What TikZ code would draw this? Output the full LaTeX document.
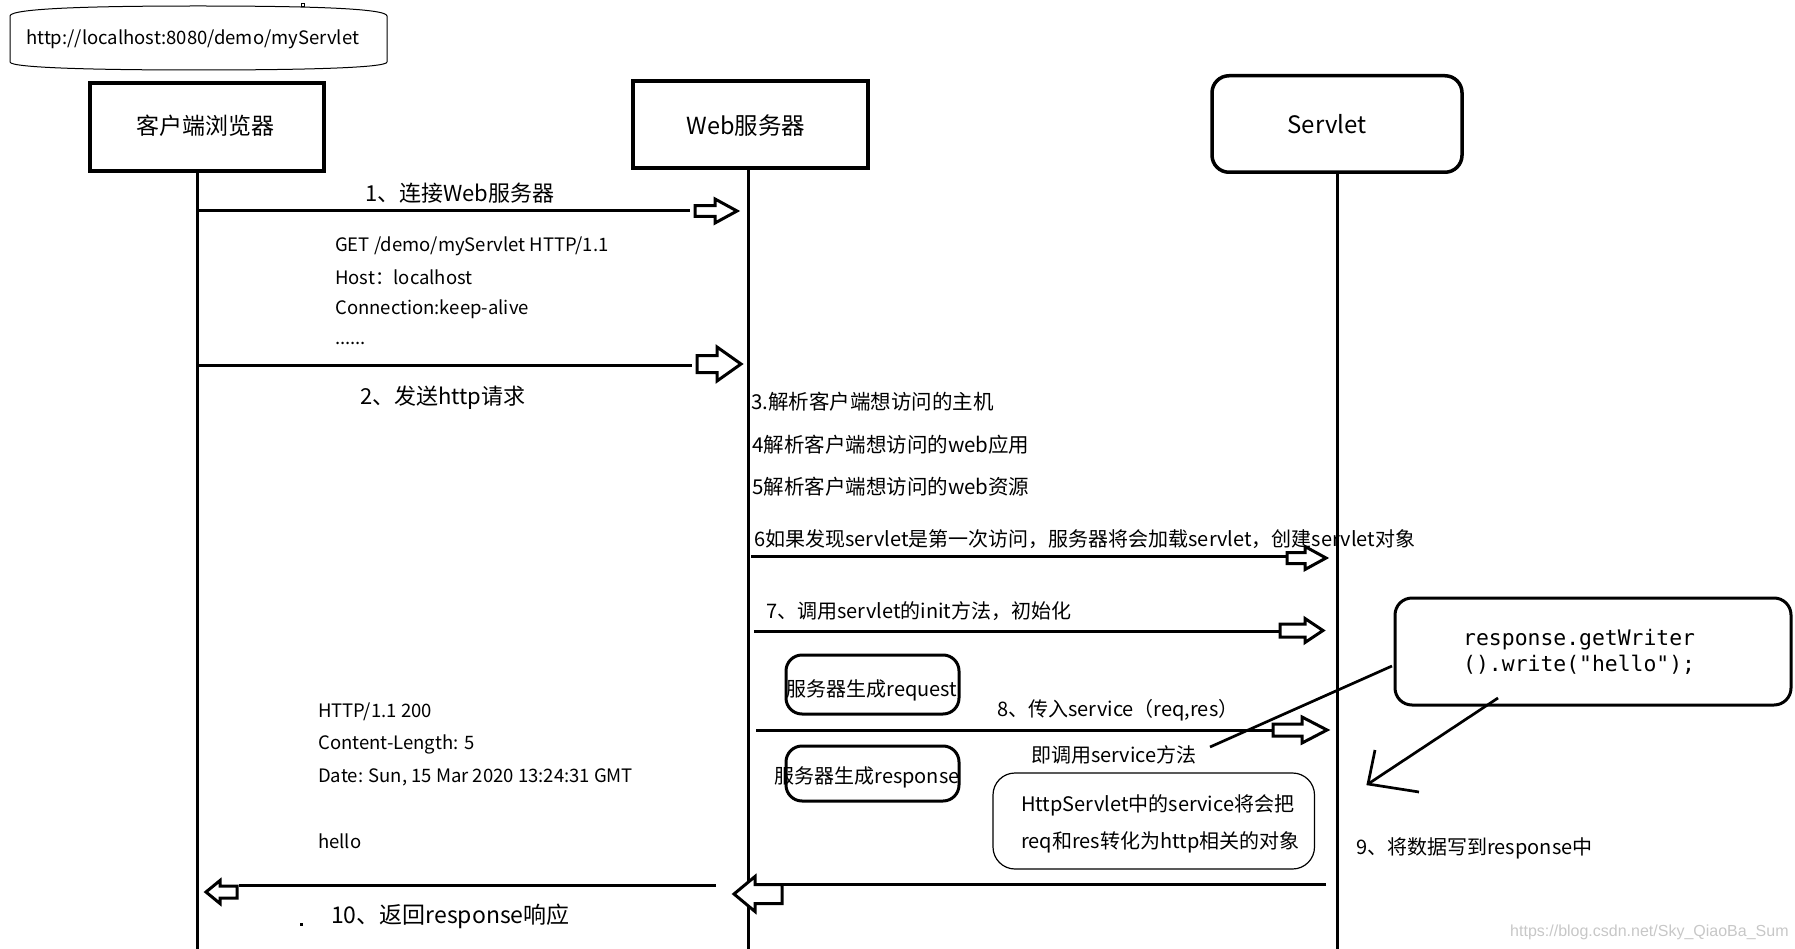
\documentclass[tikz,border=0pt]{standalone}
\usepackage{fontspec}
\setmainfont{Noto Sans CJK SC}
\newfontfamily\codefont{DejaVu Sans Mono}
\newfontfamily\wmfont{Liberation Sans}
\newcommand\myfs[1]{\fontsize{#1}{#1}\selectfont}
% #1 tip, #2 dir (1 right, -1 left), #3 shaft len, #4 shaft half, #5 head len, #6 head half
\newcommand\blockarr[6]{\draw[blockarrow] (#1) -- ++({-(#2)*(#5)},{#6}) -- ++(0,{-(#6)+(#4)}) -- ++({-(#2)*(#3)},0) -- ++(0,{-2*(#4)}) -- ++({(#2)*(#3)},0) -- ++(0,{-(#6)+(#4)}) -- cycle;}
\tikzset{
  headbox/.style={draw, line width=3.5pt, inner sep=0pt},
  lifeline/.style={line width=3pt},
  msg/.style={line width=3pt},
  blockarrow/.style={draw, line width=3pt, fill=white, line join=miter},
  lbl/.style={inner sep=0pt, anchor=west, font=\myfs{20}},
  biglbl/.style={inner sep=0pt, anchor=west, font=\myfs{22}},
  hdr/.style={inner sep=0pt, anchor=west, font=\myfs{18.5}},
  softbox/.style={draw, line width=3pt, rounded corners=16pt, inner sep=0pt},
}
\begin{document}
\begin{tikzpicture}[x=1pt,y=-1pt]
\useasboundingbox (0,0) rectangle (1795,949);

% URL bubble
\draw[line width=1pt] (10,62) -- (10,16) .. controls (10,8) and (100,6) .. (198,6) .. controls (300,6) and (387,8) .. (387,16) -- (387,62) .. controls (387,68) and (300,70) .. (198,70) .. controls (100,70) and (10,68) .. (10,62);
\draw[line width=0.8pt] (301.5,3) rectangle (304.5,6);
\node[hdr] (url) at (26,39) {http://localhost:8080/demo/myServlet};

% heads
\node[headbox, minimum width=234pt, minimum height=88pt] (browser) at (207,127) {};
\node[inner sep=0pt, font=\myfs{23}] (browsert) at (205,126) {客户端浏览器};
\node[headbox, minimum width=235pt, minimum height=87pt] (web) at (750.5,124.5) {};
\node[inner sep=0pt, font=\myfs{23.5}] (webt) at (746,126) {Web服务器};
\node[headbox, rounded corners=17pt, minimum width=250pt, minimum height=96.5pt] (servlet) at (1337,124) {};
\node[inner sep=0pt, font=\myfs{24}] (servlett) at (1327,124) {Servlet};

% lifelines
\coordinate (bTop) at (197,171); \coordinate (bBot) at (197,949);
\coordinate (wTop) at (748,168); \coordinate (wBot) at (748,949);
\coordinate (sTop) at (1337,172); \coordinate (sBot) at (1337,949);
\draw[lifeline] (bTop) -- (bBot);
\draw[lifeline] (wTop) -- (wBot);
\draw[lifeline] (sTop) -- (sBot);

% 1
\coordinate (a1s) at (197,211); \coordinate (a1e) at (690,211); \coordinate (a1t) at (737,211);
\draw[msg] (a1s) -- (a1e);
\blockarr{a1t}{1}{20}{5.3}{22}{12}
\node[biglbl] (l1) at (365,193) {1、连接Web服务器};
\node[hdr] (r1) at (335,246) {GET /demo/myServlet HTTP/1.1};
\node[hdr] (r2) at (335,277) {Host：localhost};
\node[hdr] (r3) at (335,309) {Connection:keep-alive};
\node[hdr] (r4) at (335,343) {......};

% 2
\coordinate (a2s) at (197,365); \coordinate (a2e) at (692,365); \coordinate (a2t) at (741,364);
\draw[msg] (a2s) -- (a2e);
\blockarr{a2t}{1}{20}{8.5}{24}{17}
\node[biglbl] (l2) at (360,398) {2、发送http请求};

% 3-6
\node[lbl, font=\myfs{20.5}] (l3) at (751,402) {3.解析客户端想访问的主机};
\node[lbl, font=\myfs{20.5}] (l4) at (752,445) {4解析客户端想访问的web应用};
\node[lbl, font=\myfs{20.5}] (l5) at (752,487) {5解析客户端想访问的web资源};
\node[lbl] (l6) at (754,539) {6如果发现servlet是第一次访问，服务器将会加载servlet，创建servlet对象};
\coordinate (a6s) at (751,556); \coordinate (a6e) at (1287,556); \coordinate (a6t) at (1326,558);
\draw[msg] (a6s) -- (a6e);
\blockarr{a6t}{1}{18}{5.5}{21}{11.5}

% 7
\node[lbl] (l7) at (766,611) {7、调用servlet的init方法，初始化};
\coordinate (a7s) at (754,631); \coordinate (a7e) at (1280,631); \coordinate (a7t) at (1323,630.5);
\draw[msg] (a7s) -- (a7e);
\blockarr{a7t}{1}{25}{6.5}{18}{12}

% request / response boxes
\node[softbox, minimum width=173pt, minimum height=59pt] (reqbox) at (872.5,684.5) {};
\node[inner sep=0pt, font=\myfs{20}] (reqt) at (872,690) {服务器生成request};
\node[softbox, minimum width=173pt, minimum height=55pt] (resbox) at (872.5,773.5) {};
\node[inner sep=0pt, font=\myfs{20}] (rest) at (867,777) {服务器生成response};

% 8
\node[lbl] (l8) at (997,710) {8、传入service（req,res）};
\coordinate (a8s) at (756,730.5); \coordinate (a8e) at (1273,730.5); \coordinate (a8t) at (1327,730);
\draw[msg] (a8s) -- (a8e);
\blockarr{a8t}{1}{29}{6}{25}{13}
\node[lbl] (l8b) at (1031,755) {即调用service方法};

% HttpServlet note
\node[draw, line width=1.2pt, rounded corners=22pt, minimum width=321.5pt, minimum height=96pt, inner sep=0pt] (httpbox) at (1153.75,821) {};
\node[lbl] (h1) at (1021,805) {HttpServlet中的service将会把};
\node[lbl] (h2) at (1021,842) {req和res转化为http相关的对象};

% code box
\node[draw, line width=3pt, rounded corners=17pt, minimum width=396pt, minimum height=107pt, inner sep=0pt] (code) at (1593,651.5) {};
\node[inner sep=0pt, anchor=west, align=left, font={\codefont\fontsize{21.4}{26}\selectfont}] (codet) at (1463,652) {response.getWriter\\().write("hello");};

% connectors of the code box
\coordinate (d1s) at (1210,747); \coordinate (d1e) at (1392,666);
\draw[line width=2.7pt] (d1s) -- (d1e);
\coordinate (d2s) at (1498,698); \coordinate (d2t) at (1368,784);
\coordinate (d2h1) at (1375,750); \coordinate (d2h2) at (1419,792);
\draw[line width=2.7pt] (d2s) -- (d2t);
\draw[line width=2.7pt, line join=miter] (d2h1) -- (d2t) -- (d2h2);
\node[lbl] (l9) at (1356,848) {9、将数据写到response中};

% response headers
\node[hdr] (p1) at (318,712) {HTTP/1.1 200};
\node[hdr] (p2) at (318,744) {Content-Length: 5};
\node[hdr] (p3) at (318,777) {Date: Sun, 15 Mar 2020 13:24:31 GMT};
\node[hdr] (p4) at (318,841) {hello};

% 10
\coordinate (a10s) at (1326,884); \coordinate (a10e) at (770,884); \coordinate (a10t) at (734,894);
\draw[msg] (a10s) -- (a10e);
\blockarr{a10t}{-1}{27}{9.5}{21}{17.5}
\coordinate (a11s) at (716,885); \coordinate (a11e) at (239,885); \coordinate (a11t) at (206,892);
\draw[msg] (a11s) -- (a11e);
\blockarr{a11t}{-1}{17}{6}{14}{11.5}
\node[biglbl, font=\myfs{23}] (l10) at (331,916) {10、返回response响应};
\fill (299.5,922.5) rectangle (302.5,925.5);

% watermark
\node[inner sep=0pt, anchor=west, text=black!22, font={\wmfont\fontsize{16}{16}\selectfont}] (wm) at (1510,932) {https://blog.csdn.net/Sky\_QiaoBa\_Sum};
\end{tikzpicture}
\end{document}
